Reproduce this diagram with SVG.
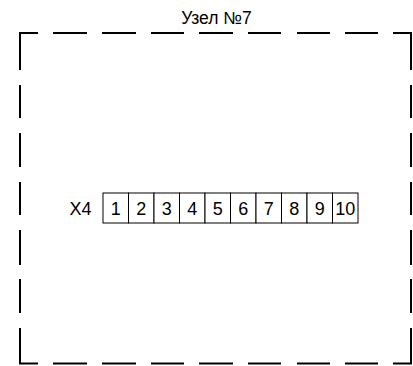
<svg xmlns="http://www.w3.org/2000/svg" width="413" height="366" viewBox="0 0 413 366">
<style>
.frame{fill:none;stroke:#000;stroke-width:2;stroke-linecap:butt}
.cell{fill:#fff;stroke:#000;stroke-width:1}
.t{font-family:"Liberation Sans",Arial,sans-serif;font-size:18px;fill:#000}
.c{text-anchor:middle}
</style>
<rect width="413" height="366" fill="#fff"/>
<g id="node7">
<text class="t c" x="216.5" y="23.5" style="font-size:17.5px">Узел №7</text>
<path class="frame" d="M20,70 V33 H38 M53,33 H87 M102,33 H136 M151,33 H184 M199,33 H233 M248,33 H281 M297,33 H330 M345,33 H378 M393,33 H411 V70 M20,85 V118 M20,133 V167 M20,182 V215 M20,230 V265 M20,279 V313 M20,328 V363.5 H38 M53,363.5 H87 M102,363.5 H136 M151,363.5 H184 M199,363.5 H233 M248,363.5 H281 M297,363.5 H330 M345,363.5 H378 M393,363.5 H411 V328 M411,85 V118 M411,133 V167 M411,182 V215 M411,230 V265 M411,279 V313"/>
</g>
<g id="X4">
<text class="t" x="69.5" y="215">X4</text>
<g id="X4-1"><rect class="cell" x="103" y="193" width="25.5" height="30"/><text class="t c" x="115.75" y="215">1</text></g>
<g id="X4-2"><rect class="cell" x="128.5" y="193" width="25.5" height="30"/><text class="t c" x="141.25" y="215">2</text></g>
<g id="X4-3"><rect class="cell" x="154" y="193" width="25.5" height="30"/><text class="t c" x="166.75" y="215">3</text></g>
<g id="X4-4"><rect class="cell" x="179.5" y="193" width="25.5" height="30"/><text class="t c" x="192.25" y="215">4</text></g>
<g id="X4-5"><rect class="cell" x="205" y="193" width="25.5" height="30"/><text class="t c" x="217.75" y="215">5</text></g>
<g id="X4-6"><rect class="cell" x="230.5" y="193" width="25.5" height="30"/><text class="t c" x="243.25" y="215">6</text></g>
<g id="X4-7"><rect class="cell" x="256" y="193" width="25.5" height="30"/><text class="t c" x="268.75" y="215">7</text></g>
<g id="X4-8"><rect class="cell" x="281.5" y="193" width="25.5" height="30"/><text class="t c" x="294.25" y="215">8</text></g>
<g id="X4-9"><rect class="cell" x="307" y="193" width="25.5" height="30"/><text class="t c" x="319.75" y="215">9</text></g>
<g id="X4-10"><rect class="cell" x="332.5" y="193" width="25.5" height="30"/><text class="t c" x="345.25" y="215">10</text></g>
</g>
<g id="connectors"/>
</svg>
